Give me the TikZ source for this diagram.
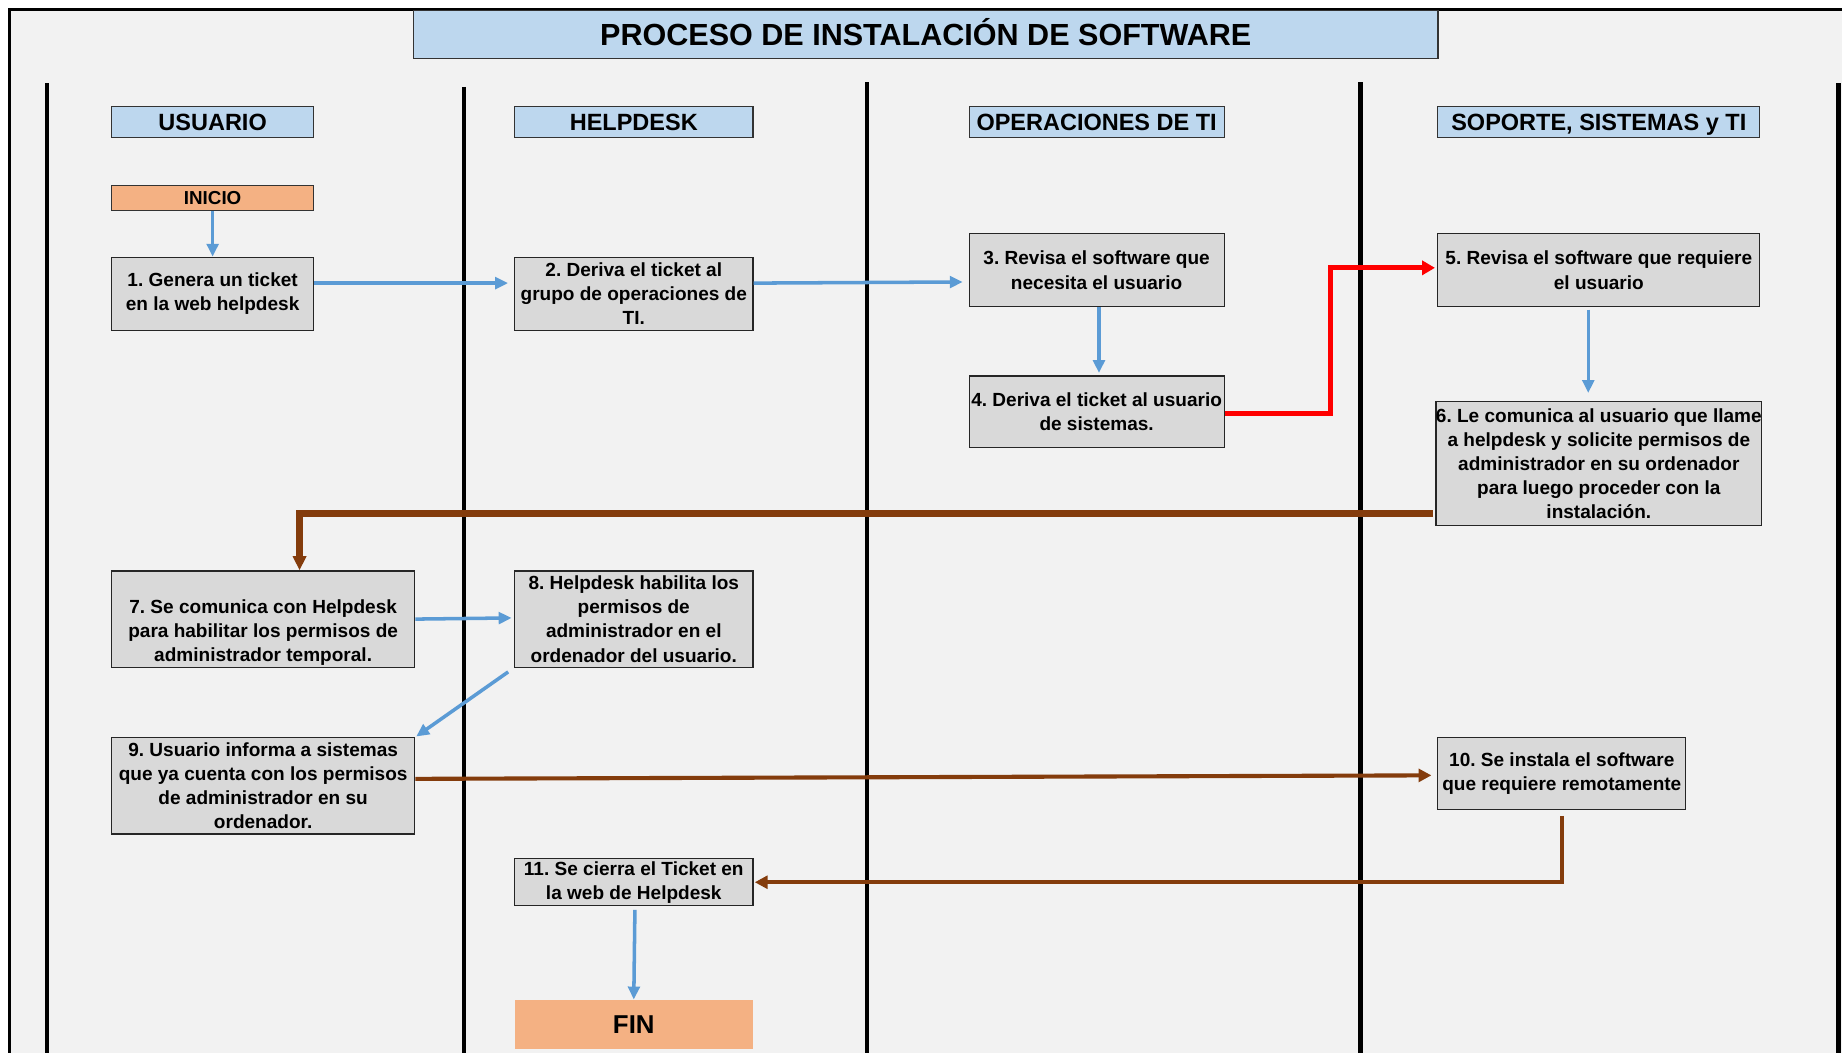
\documentclass[tikz,border=0pt]{standalone}
\usepackage{fontspec}
\setmainfont{Liberation Sans}
\usepackage{tikz}
\usetikzlibrary{arrows.meta}
\frenchspacing

\definecolor{fondo}{HTML}{F2F2F2}
\definecolor{celeste}{HTML}{BDD7EE}
\definecolor{gris}{HTML}{D9D9D9}
\definecolor{naranja}{HTML}{F4B183}
\definecolor{azul}{HTML}{5B9BD5}
\definecolor{marron}{HTML}{843C0C}

\tikzset{
  paso/.style={draw=black!85, line width=1pt, fill=gris, inner sep=0pt, align=center,
    font=\bfseries\fontsize{16.2}{20.5}\selectfont},
  carril/.style={draw=black!80, line width=1pt, fill=celeste, inner sep=0pt,
    minimum height=26pt, text height=14.3pt, text depth=0pt,
    font=\bfseries\fontsize{20}{24}\selectfont},
  flechaazul/.style={azul, line width=3pt, -{Triangle[length=11pt,width=10pt]}},
  flecharoja/.style={red, line width=4pt, -{Triangle[length=11pt,width=12pt]}},
  flechamarron/.style={marron, line width=3.5pt, -{Triangle[length=11pt,width=11pt]}}
}

\begin{document}
\begin{tikzpicture}[x=1pt, y=-1pt]
\useasboundingbox (0,0) rectangle (1568,896);
\fill[white] (0,0) rectangle (1568,896);
\fill[fondo] (8,8) rectangle (1568,896);
\draw[line width=2.5pt] (8,896) -- (8,8) -- (1568,8);

\foreach \x/\y in {40/71, 395/74, 738/70, 1158/70, 1565/71}
  \draw[line width=4pt] (\x,\y) -- (\x,896);

\node[draw=black!80, line width=1.2pt, fill=celeste, 
   minimum width=872pt, minimum height=41pt, inner sep=0pt,
   text height=18.8pt, text depth=0pt,
   font=\bfseries\fontsize{26}{30}\selectfont] (titulo) at (788,29.5)
  {PROCESO DE INSTALACIÓN DE SOFTWARE};

\node[carril, minimum width=172pt] (usuario) at (181,104) {USUARIO};
\node[carril, minimum width=203pt] (helpdesk) at (539.5,104) {HELPDESK};
\node[carril, minimum width=217pt] (operaciones) at (933.5,104) {OPERACIONES DE TI};
\node[carril, minimum width=274pt] (soporte) at (1361,104) {SOPORTE, SISTEMAS y TI};

\node[draw=black!80, line width=1pt, fill=naranja, 
   minimum width=172pt, minimum height=21pt, inner sep=0pt,
   text height=11.5pt, text depth=0pt,
   font=\bfseries\fontsize{16}{20}\selectfont] (inicio) at (181,168.5) {INICIO};

\node[paso, minimum width=172pt, minimum height=62pt] (p1) at (181,250)
  {1. Genera un ticket\\en la web helpdesk};
\node[paso, minimum width=203pt, minimum height=62pt] (p2) at (539.5,250)
  {2. Deriva el ticket al\\grupo de operaciones de\\TI.};
\node[paso, minimum width=217pt, minimum height=62pt] (p3) at (933.5,230)
  {3. Revisa el software que\\necesita el usuario};
\node[paso, minimum width=217pt, minimum height=61pt] (p4) at (933.5,350.5)
  {4. Deriva el ticket al usuario\\de sistemas.};
\node[paso, minimum width=274pt, minimum height=62pt] (p5) at (1361,230)
  {5. Revisa el software que requiere\\el usuario};
\node[paso, minimum width=274pt, minimum height=105pt] (p6) at (1361,394.5)
  {6. Le comunica al usuario que llame\\a helpdesk y solicite permisos de\\administrador en su ordenador\\para luego proceder con la\\instalación.};
\node[paso, minimum width=258pt, minimum height=82pt] (p7) at (224,527)
  {\strut\\7. Se comunica con Helpdesk\\para habilitar los permisos de\\administrador temporal.};
\node[paso, minimum width=203pt, minimum height=82pt] (p8) at (539.5,527)
  {8. Helpdesk habilita los\\permisos de\\administrador en el\\ordenador del usuario.};
\node[paso, minimum width=258pt, minimum height=82pt] (p9) at (224,669)
  {9. Usuario informa a sistemas\\que ya cuenta con los permisos\\de administrador en su\\ordenador.};
\node[paso, minimum width=211pt, minimum height=61pt] (p10) at (1329.5,658.5)
  {10. Se instala el software\\que requiere remotamente};
\node[paso, minimum width=203pt, minimum height=40pt] (p11) at (539.5,751)
  {11. Se cierra el Ticket en\\la web de Helpdesk};

\node[fill=naranja, minimum width=203pt, minimum height=42pt, inner sep=0pt,
   text height=15.8pt, text depth=0pt,
   font=\bfseries\fontsize{22}{26}\selectfont] (fin) at (539.5,872) {FIN};

\draw[flechaazul] (inicio) -- (p1);
\draw[flechaazul, shorten >=5pt] ([yshift=9pt]p1.east) -- ([yshift=9pt]p2.west);
\draw[flechaazul, shorten >=5pt] ([yshift=9pt]p2.east) -- ([yshift=-10pt]p3.west);
\draw[flechaazul, shorten >=2pt] ([xshift=2pt]p3.south) -- ([xshift=2pt]p4.north);
\draw[flecharoja, shorten >=2pt] ([yshift=-1.5pt]p4.east) -- ++(90,0) |- ([yshift=2pt]p5.west);
\draw[flechaazul, shorten <=2pt, shorten >=7pt] ([xshift=-9pt]p5.south) -- ([xshift=-9pt]p6.north);
\draw[flechamarron, line width=6pt, -{Triangle[length=12pt,width=11pt]}, shorten <=2pt]
  ([yshift=-42.5pt]p6.west) -| ([xshift=31pt]p7.north);
\draw[flechaazul, shorten >=2pt] (p7.east) -- ([yshift=1pt]p8.west);
\draw[flechaazul, shorten <=6pt, shorten >=1pt] (p8.south west) -- (p9.north east);
\draw[flechamarron, shorten >=5pt] ([yshift=6pt]p9.east) -- ([yshift=-1.5pt]p10.west);
\draw[flechamarron, shorten <=5pt, shorten >=1pt] (p10.south) |- (p11.east);
\draw[flechaazul, shorten <=3pt] ([xshift=1pt]p11.south) -- (fin.north);
\end{tikzpicture}
\end{document}
